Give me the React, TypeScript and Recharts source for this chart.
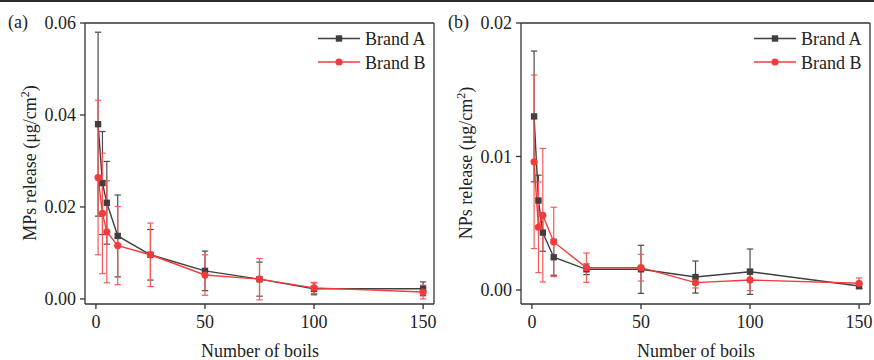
import React from 'react';
import { LineChart, Line, XAxis, YAxis, ErrorBar, Legend, ReferenceLine } from 'recharts';

const boils = [1, 3, 5, 10, 25, 50, 75, 100, 150];
const mpA = [0.038, 0.0252, 0.0209, 0.0137, 0.0096, 0.0061, 0.0043, 0.0022, 0.0022];
const mpAErr = [0.02, 0.0112, 0.009, 0.0089, 0.0055, 0.0043, 0.0037, 0.0013, 0.0015];
const mpB = [0.0264, 0.0186, 0.0146, 0.0116, 0.0096, 0.0052, 0.0043, 0.0024, 0.0015];
const mpBErr = [0.0168, 0.0131, 0.0111, 0.0085, 0.0069, 0.0044, 0.0045, 0.0012, 0.0015];
const npA = [0.013, 0.0067, 0.0043, 0.00245, 0.00155, 0.00155, 0.00097, 0.00137, 0.0003];
const npAErr = [0.0049, 0.0019, 0.0014, 0.00135, 0.0004, 0.0018, 0.0012, 0.0017, 0.0002];
const npB = [0.0096, 0.0047, 0.0056, 0.0036, 0.00167, 0.00167, 0.00055, 0.00075, 0.0005];
const npBErr = [0.0065, 0.0034, 0.005, 0.0026, 0.0011, 0.001, 0.0004, 0.0008, 0.0004];

const xTicks = [0, 50, 100, 150];
const xDomain: [number, number] = [-5, 155];
const mpTicks = [0, 0.02, 0.04, 0.06];
const npTicks = [0, 0.01, 0.02];
const seriesNames = ['Brand A', 'Brand B'];

const mpData = boils.map((b, i) => ({ boils: b, a: mpA[i], ea: mpAErr[i], b2: mpB[i], eb: mpBErr[i] }));
const npData = boils.map((b, i) => ({ boils: b, a: npA[i], ea: npAErr[i], b2: npB[i], eb: npBErr[i] }));

const GRAY = '#3f3f3f';
const RED = '#f23c3c';
const AX = '#333';
const FONT = 'Liberation Serif, Times New Roman, serif';

const SquareDot = (props: any) => {
  const { cx, cy, index } = props;
  if (cx == null || cy == null) return <g key={index} />;
  return <rect key={index} x={cx - 3.2} y={cy - 3.2} width={6.4} height={6.4} fill={GRAY} />;
};

const LegendContent = () => (
  <svg width={130} height={50} style={{ overflow: 'visible', display: 'block' }}>
    <line x1={8} x2={50} y1={13.5} y2={13.5} stroke={GRAY} strokeWidth={1.4} />
    <rect x={25.8} y={10.3} width={6.4} height={6.4} fill={GRAY} />
    <text x={55} y={20} fontSize={18} fill="#222" style={{ fontFamily: FONT }}>{seriesNames[0]}</text>
    <line x1={8} x2={50} y1={37} y2={37} stroke={RED} strokeWidth={1.4} />
    <circle cx={29} cy={37} r={3.6} fill={RED} />
    <text x={55} y={43.5} fontSize={18} fill="#222" style={{ fontFamily: FONT }}>{seriesNames[1]}</text>
  </svg>
);

function Panel({ data, ticks, domain, left }: { data: any[]; ticks: number[]; domain: [number, number]; left: number }) {
  const tickStyle = { fontSize: 18, fill: '#222', fontFamily: FONT };
  return (
    <div style={{ position: 'absolute', left, top: 0 }}>
      <LineChart width={437} height={360} data={data} margin={{ top: 23, right: 3, bottom: 0, left: 0 }}>
        <XAxis
          dataKey="boils"
          type="number"
          domain={xDomain}
          ticks={xTicks}
          allowDataOverflow
          height={56}
          tick={tickStyle}
          tickSize={5}
          tickMargin={6}
          stroke={AX}
          strokeWidth={1.3}
        />
        <YAxis
          type="number"
          domain={domain}
          ticks={ticks}
          allowDataOverflow
          width={85}
          tick={tickStyle}
          tickSize={5}
          tickMargin={4}
          tickFormatter={(v: number) => v.toFixed(2)}
          stroke={AX}
          strokeWidth={1.3}
        />
        <ReferenceLine y={domain[1]} stroke={AX} strokeWidth={1.3} ifOverflow="visible" />
        <ReferenceLine x={xDomain[1]} stroke={AX} strokeWidth={1.3} ifOverflow="visible" />
        <Legend
          layout="horizontal"
          verticalAlign="middle"
          align="center"
          content={LegendContent}
          wrapperStyle={{ left: 310, top: 25, width: 130, height: 50 }}
        />
        <Line dataKey="a" stroke={GRAY} strokeWidth={1.4} dot={SquareDot} isAnimationActive={false} name={seriesNames[0]}>
          <ErrorBar dataKey="ea" direction="y" width={3.2} stroke="#4a4a4a" strokeWidth={1.2} />
        </Line>
        <Line dataKey="b2" stroke={RED} strokeWidth={1.4} dot={{ r: 3.6, fill: RED, stroke: RED, strokeWidth: 0 }} isAnimationActive={false} name={seriesNames[1]}>
          <ErrorBar dataKey="eb" direction="y" width={3.2} stroke="#f55a5a" strokeWidth={1.2} />
        </Line>
      </LineChart>
    </div>
  );
}

export default function App() {
  return (
    <div style={{ position: 'absolute', left: 0, top: 0, width: 874, height: 360, background: '#fff', fontFamily: FONT }}>
      <div style={{ position: 'absolute', left: 0, top: 0, width: 874, height: 1.5, background: '#2a2a2a' }} />
      <Panel data={mpData} ticks={mpTicks} domain={[-0.0011, 0.06]} left={0} />
      <Panel data={npData} ticks={npTicks} domain={[-0.00105, 0.02]} left={436} />
      <svg width={874} height={360} style={{ position: 'absolute', left: 0, top: 0, pointerEvents: 'none', fontFamily: FONT }}>
        <text x={8} y={28} fontSize={18} fill="#222">(a)</text>
        <text x={448} y={28} fontSize={18} fill="#222">(b)</text>
        <text x={36} y={163} fontSize={18} fill="#222" textAnchor="middle" transform="rotate(-90 36 163)">
          MPs release (μg/cm<tspan dy={-7} fontSize={12}>2</tspan><tspan dy={7}>)</tspan>
        </text>
        <text x={472} y={163} fontSize={18} fill="#222" textAnchor="middle" transform="rotate(-90 472 163)">
          NPs release (μg/cm<tspan dy={-7} fontSize={12}>2</tspan><tspan dy={7}>)</tspan>
        </text>
        <text x={260} y={357} fontSize={18} fill="#222" textAnchor="middle">Number of boils</text>
        <text x={696} y={357} fontSize={18} fill="#222" textAnchor="middle">Number of boils</text>
      </svg>
    </div>
  );
}
